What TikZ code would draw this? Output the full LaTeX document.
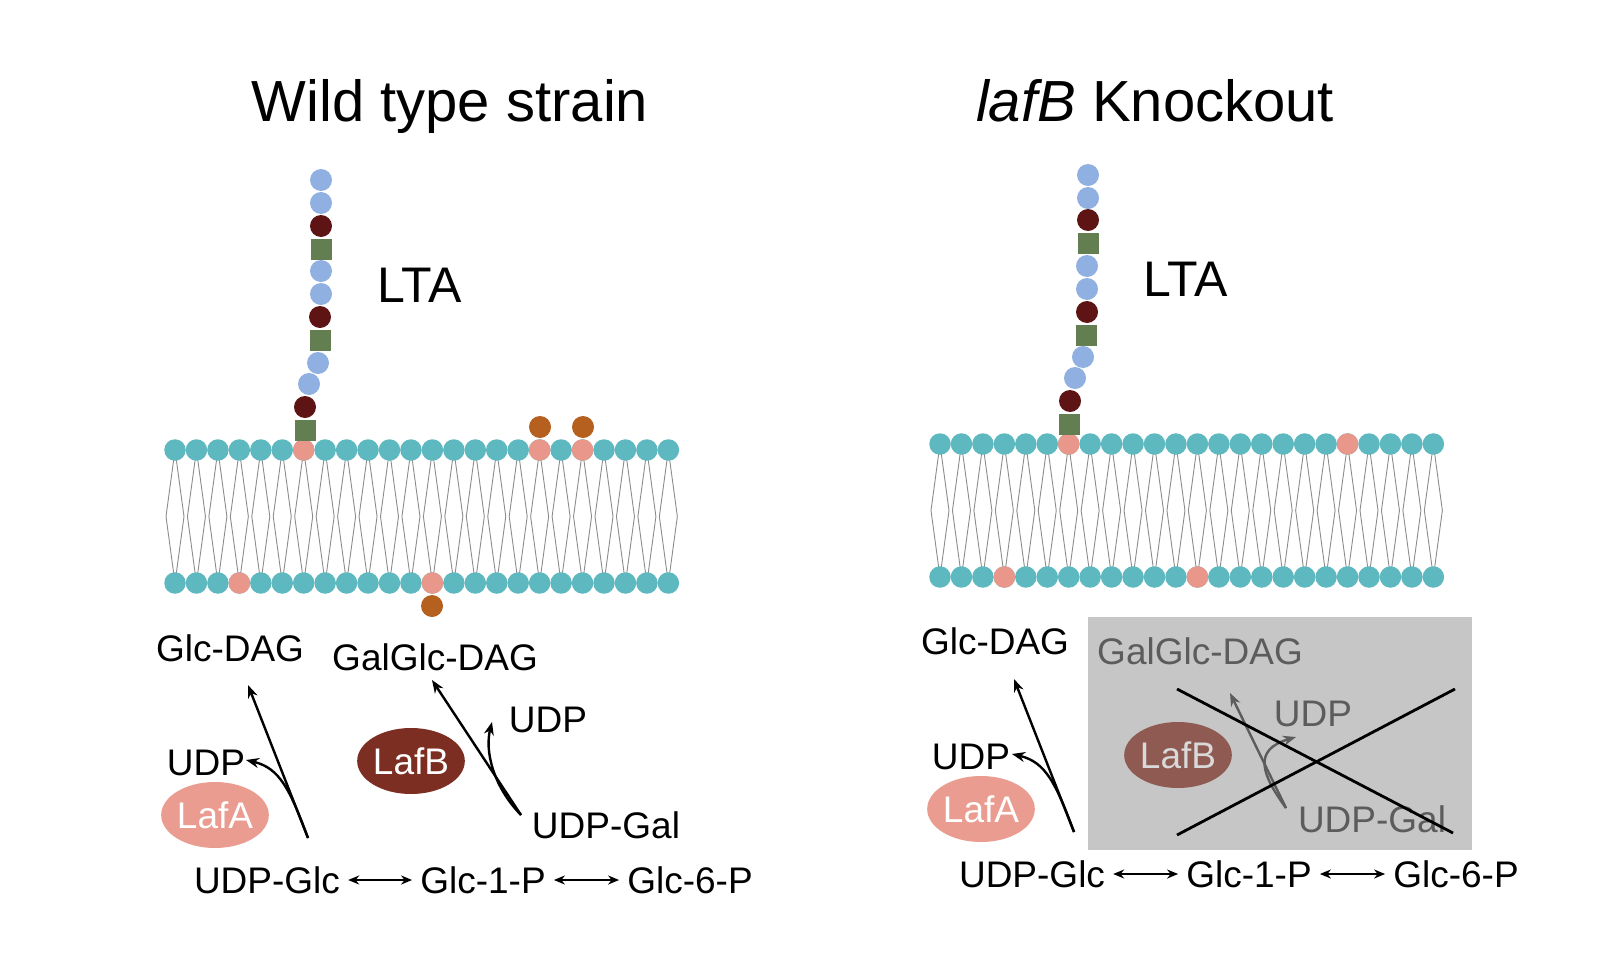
\documentclass[tikz,border=0pt]{standalone}
\usepackage{fontspec}
\setmainfont{Liberation Sans}
\usetikzlibrary{shapes.geometric,calc,arrows.meta}
\begin{document}
\begin{tikzpicture}[x=1pt,y=-1pt,
 head/.style={circle,fill=headc,inner sep=0,minimum size=21.5pt},
 blu/.style={circle,fill=bluc,inner sep=0,minimum size=22pt},
 drd/.style={circle,fill=drdc,inner sep=0,minimum size=22pt},
 grn/.style={rectangle,fill=grnc,inner sep=0,minimum size=21pt},
 pnk/.style={circle,fill=pnkc,inner sep=0,minimum size=21.5pt},
 org/.style={circle,fill=orgc,inner sep=0,minimum size=22pt},
 tail/.style={draw=gray!90,line width=0.9pt},
 ttl/.style={font=\fontsize{58}{66}\selectfont,inner sep=0,anchor=base},
 lbl/.style={font=\fontsize{37}{44}\selectfont,inner sep=0},
 enz/.style={ellipse,minimum width=96pt,minimum height=66pt,inner sep=0,font=\fontsize{37}{44}\selectfont},
 arr/.style={-{Stealth[length=13pt,width=10pt]},line width=2.4pt},
 dbl/.style={{Stealth[length=11pt,width=9pt]}-{Stealth[length=11pt,width=9pt]},line width=2pt}]
\definecolor{headc}{HTML}{5DB8BF}
\definecolor{bluc}{HTML}{8FB0E0}
\definecolor{drdc}{HTML}{5E1414}
\definecolor{grnc}{HTML}{637F52}
\definecolor{pnkc}{HTML}{E8978A}
\definecolor{orgc}{HTML}{B5601E}
\definecolor{lafac}{HTML}{EA9C90}
\definecolor{lafbc}{HTML}{7C2E22}
\definecolor{boxc}{HTML}{C6C6C6}
\definecolor{dimc}{HTML}{5C5C5C}
\definecolor{lafbd}{HTML}{8E5A52}
\fill[white] (0,0) rectangle (1612,961);
% titles
\node[ttl] (t1) at (450,121) {Wild type strain};
\node[ttl] (t2) at (1155,121) {\textit{lafB} Knockout};
% membranes
\foreach \ox/\ty/\by in {175/450/583, 940/444/577}{
  \pgfmathsetmacro{\my}{(\ty+\by)/2}
  \foreach \i in {0,...,23}{
    \pgfmathsetmacro{\xx}{\ox+\i*21.45}
    \draw[tail] (\xx,\ty) -- (\xx-9,\my) -- (\xx,\by) -- (\xx+9,\my) -- cycle;
  }
  \foreach \i in {0,...,23}{
    \pgfmathsetmacro{\xx}{\ox+\i*21.45}
    \node[head] at (\xx,\ty) {};
    \node[head] at (\xx,\by) {};
  }
}
% left pinks & oranges
\node[pnk] (lp1) at (303.7,450) {};
\node[pnk] (lp2) at (539.7,450) {};
\node[pnk] (lp3) at (582.6,450) {};
\node[pnk] (lp4) at (239.4,583) {};
\node[pnk] (lp5) at (432.4,583) {};
\node[org] (lo1) at (540,427) {};
\node[org] (lo2) at (583,427) {};
\node[org] (lo3) at (432,606) {};
% right pinks
\node[pnk] (rp1) at (1068.7,444) {};
\node[pnk] (rp2) at (1347.5,444) {};
\node[pnk] (rp3) at (1004.4,577) {};
\node[pnk] (rp4) at (1197.4,577) {};
% LTA chains
\node[blu] at (321,180) {}; \node[blu] at (321,203) {}; \node[drd] at (321,226) {};
\node[grn] at (321,249) {}; \node[blu] at (321,271) {}; \node[blu] at (321,294) {};
\node[drd] at (320,317) {}; \node[grn] at (320,340) {}; \node[blu] at (318,363) {};
\node[blu] at (309,384) {}; \node[drd] at (305,407) {}; \node[grn] at (305,430) {};
\node[blu] at (1088,175) {}; \node[blu] at (1088,198) {}; \node[drd] at (1088,220) {};
\node[grn] at (1088,243) {}; \node[blu] at (1087,266) {}; \node[blu] at (1087,289) {};
\node[drd] at (1087,312) {}; \node[grn] at (1086,335) {}; \node[blu] at (1083,357) {};
\node[blu] at (1075,378) {}; \node[drd] at (1070,401) {}; \node[grn] at (1069,424) {};
\node[font=\fontsize{50}{58}\selectfont,inner sep=0] (lta1) at (420,285) {LTA};
\node[font=\fontsize{50}{58}\selectfont,inner sep=0] (lta2) at (1186,279) {LTA};
% left pathway
\node[lbl] (gd1) at (230,648) {Glc-DAG};
\node[lbl] (ggd1) at (435,657) {GalGlc-DAG};
\node[lbl] (udpb1) at (548,720) {UDP};
\node[lbl] (udpa1) at (206,763) {UDP};
\node[enz,fill=lafbc,text=white] (lafb1) at (411,761) {LafB};
\node[enz,fill=lafac,text=white] (lafa1) at (215,815) {LafA};
\node[lbl] (ug1) at (267,880) {UDP-Glc};
\node[lbl] (g1p1) at (483,880) {Glc-1-P};
\node[lbl] (g6p1) at (690,880) {Glc-6-P};
\node[lbl] (ugal1) at (606,825) {UDP-Gal};
\coordinate (s1) at (308,838);
\coordinate (s2) at (521,815);
\draw[arr] (s1) -- (248,685);
\draw[arr] (s1) .. controls (290,790) and (280,768) .. (246,760);
\draw[arr] (s2) -- (432,680);
\draw[arr] (s2) .. controls (492,785) and (485,750) .. (492,722);
\draw[dbl] ($(ug1.east)+(8,0)$) -- ($(g1p1.west)+(-8,0)$);
\draw[dbl] ($(g1p1.east)+(8,0)$) -- ($(g6p1.west)+(-8,0)$);
% right pathway
\node[lbl] (gd2) at (995,641) {Glc-DAG};
\node[lbl] (udpa2) at (971,757) {UDP};
\node[enz,fill=lafac,text=white] (lafa2) at (981,809) {LafA};
\node[lbl] (ug2) at (1032,874) {UDP-Glc};
\node[lbl] (g1p2) at (1249,874) {Glc-1-P};
\node[lbl] (g6p2) at (1456,874) {Glc-6-P};
\coordinate (s3) at (1074,832);
\draw[arr] (s3) -- (1014,679);
\draw[arr] (s3) .. controls (1056,784) and (1046,762) .. (1012,754);
\draw[dbl] ($(ug2.east)+(8,0)$) -- ($(g1p2.west)+(-8,0)$);
\draw[dbl] ($(g1p2.east)+(8,0)$) -- ($(g6p2.west)+(-8,0)$);
% grey box
\fill[boxc] (1088,617) rectangle (1472,850);
\node[lbl,text=dimc] (ggd2) at (1200,651) {GalGlc-DAG};
\node[lbl,text=dimc] (udpb2) at (1313,714) {UDP};
\node[enz,fill=lafbd,text=gray!30] (lafb2) at (1178,755) {LafB};
\node[lbl,text=dimc] (ugal2) at (1372,819) {UDP-Gal};
\coordinate (s4) at (1286,808);
\draw[arr,draw=dimc] (s4) -- (1230,693);
\draw[arr,draw=dimc] (s4) .. controls (1262,775) and (1252,750) .. (1296,737);
\coordinate (x1) at (1177,689); \coordinate (x2) at (1453,833);
\coordinate (x3) at (1177,835); \coordinate (x4) at (1455,689);
\draw[line width=2.8pt] (x1) -- (x2);
\draw[line width=2.8pt] (x3) -- (x4);
\pgfresetboundingbox
\useasboundingbox (0,0) rectangle (1612,961);
\end{tikzpicture}
\end{document}
